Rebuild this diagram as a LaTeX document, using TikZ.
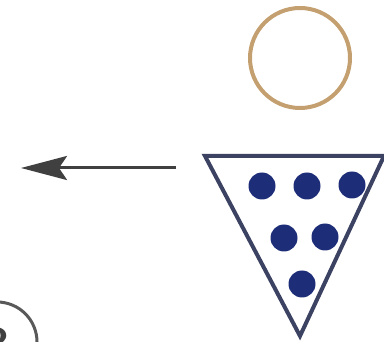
\documentclass[tikz,border=0pt]{standalone}
\usetikzlibrary{positioning, arrows.meta}

\begin{document}
\begin{tikzpicture}[
    x=1pt, y=-1pt,
    ring/.style={
        circle,
        draw=ringbrown,
        line width=4pt,
        minimum size=100pt,
        inner sep=0pt
    },
    dot/.style={
        circle,
        fill=dotblue,
        minimum size=27pt,
        inner sep=0pt
    },
    badge/.style={
        circle,
        draw=black!65,
        line width=3pt,
        minimum size=80pt,
        inner sep=0pt,
        font=\fontsize{44}{44}\selectfont\bfseries,
        text=black!75
    }
]
    \definecolor{ringbrown}{RGB}{196,160,112}
    \definecolor{dotblue}{RGB}{30,45,120}
    \definecolor{edgeblue}{RGB}{60,66,98}

    \useasboundingbox (0,0) rectangle (384,342);
    \clip (0,0) rectangle (384,342);

    % Ring
    \node[ring] (ring) at (300,58) {};

    % Triangle
    \draw[edgeblue, line width=4pt, line join=miter] (205,156) -- (384,156) -- (300,336) -- cycle;

    % Dots
    \node[dot] (d1) at (262,186) {};
    \node[dot] (d2) at (307,186) {};
    \node[dot] (d3) at (352,185) {};
    \node[dot] (d4) at (284,238) {};
    \node[dot] (d5) at (325,237) {};
    \node[dot] (d6) at (302,284) {};

    % Arrow
    \coordinate (from) at (176,168);
    \coordinate (to) at (21,168);
    \draw[black!75, line width=3pt, -{Stealth[length=46pt, width=24pt, inset=8pt]}] (from) -- (to);

    % Number
    \node[badge] (num) at (-3,342) {2};

\end{tikzpicture}
\end{document}
